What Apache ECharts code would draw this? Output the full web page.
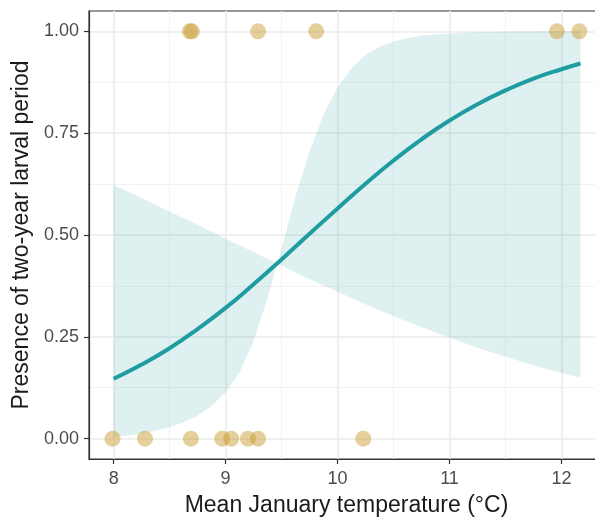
<!DOCTYPE html>
<html>
<head>
<meta charset="utf-8">
<script src="https://cdn.jsdelivr.net/npm/echarts@6/dist/echarts.min.js"></script>
<style>
  html, body { margin: 0; padding: 0; background: #fff; }
  #chart { width: 595px; height: 520px; }
</style>
</head>
<body>
<div id="chart"></div>
<script>
// observed sites: temperature and presence (0/1)
var siteTemp = [7.99, 8.28, 8.69, 8.97, 9.05, 9.20, 9.29, 10.23,
                8.68, 8.70, 9.29, 9.81, 11.96, 12.16];
var sitePresence = [0, 0, 0, 0, 0, 0, 0, 0,
                    1, 1, 1, 1, 1, 1];

// fitted logistic curve
var fitTemp = [8, 8.25, 8.5, 8.75, 9, 9.25, 9.5, 9.75, 10, 10.25, 10.5, 10.75,
               11, 11.25, 11.5, 11.75, 12, 12.17];
var fitProb = [0.147, 0.182, 0.222, 0.269, 0.321, 0.379, 0.440, 0.503, 0.565, 0.626, 0.683, 0.735,
               0.781, 0.821, 0.855, 0.884, 0.907, 0.921];

// confidence ribbon: the two bounding edges (they cross near 9.5)
var bandTemp = [8, 8.25, 8.5, 8.625, 8.75, 8.875, 9, 9.125, 9.25, 9.375, 9.5, 9.625, 9.75, 9.875,
                10, 10.125, 10.25, 10.375, 10.5, 10.625, 10.75, 11, 11.25, 11.5, 11.75, 12, 12.17];
var bandEdgeA = [0.623, 0.591, 0.558, 0.541, 0.525, 0.508, 0.491, 0.475, 0.458, 0.441, 0.425, 0.408, 0.392, 0.376,
                 0.361, 0.345, 0.330, 0.315, 0.301, 0.287, 0.274, 0.248, 0.223, 0.201, 0.180, 0.161, 0.150];
var bandEdgeB = [0.003, 0.012, 0.028, 0.040, 0.056, 0.080, 0.113, 0.163, 0.240, 0.345, 0.468, 0.595, 0.705, 0.795,
                 0.862, 0.910, 0.942, 0.962, 0.975, 0.984, 0.990, 0.995, 0.998, 0.999, 1.0, 1.0, 1.0];

var xTicks = [8, 9, 10, 11, 12];
var xMinor = [8.5, 9.5, 10.5, 11.5];
var yTicks = [0, 0.25, 0.5, 0.75, 1];
var yMinor = [0.125, 0.375, 0.625, 0.875];

var chart = echarts.init(document.getElementById('chart'));

var pts = siteTemp.map(function (t, i) { return [t, sitePresence[i]]; });
var fit = fitTemp.map(function (t, i) { return [t, fitProb[i]]; });

var font = 'Liberation Sans, Arial, Helvetica, sans-serif';
var xMin = 7.78, xMax = 12.38, yMin = -0.05, yMax = 1.05;

function majorAxis(ticks, extra) {
    var a = {
        type: 'value',
        min: 0, max: 0,
        axisLine: { show: true, onZero: false, lineStyle: { color: '#333', width: 1.2 } },
        axisTick: { show: true, length: 5, customValues: ticks, lineStyle: { color: '#333', width: 1.2 } },
        axisLabel: { customValues: ticks, color: '#4d4d4d', fontSize: 18, fontFamily: font, margin: 10 },
        splitLine: { show: true, lineStyle: { color: '#ebebeb', width: 1.6 } }
    };
    for (var k in extra) a[k] = extra[k];
    return a;
}
function minorAxis(ticks, extra) {
    var a = {
        type: 'value',
        min: 0, max: 0,
        axisLine: { show: false },
        axisTick: { show: false, customValues: ticks },
        axisLabel: { show: false, customValues: ticks },
        splitLine: { show: true, lineStyle: { color: '#f2f2f2', width: 1 } }
    };
    for (var k in extra) a[k] = extra[k];
    return a;
}

var option = {
    backgroundColor: '#fff',
    animation: false,
    grid: { left: 89, top: 11, width: 515, height: 448, show: true,
            outerBoundsMode: 'none', containLabel: false,
            borderColor: '#333', borderWidth: 1.2, backgroundColor: 'transparent' },
    xAxis: [
        majorAxis(xTicks, { min: xMin, max: xMax,
            axisLabel: { customValues: xTicks, color: '#4d4d4d', fontSize: 18, fontFamily: font, margin: 11,
                         formatter: function (v) { return String(Math.round(v)); } },
            name: 'Mean January temperature (°C)', nameLocation: 'middle', nameGap: 35,
            nameTextStyle: { color: '#1a1a1a', fontSize: 23, fontFamily: font } }),
        minorAxis(xMinor, { min: xMin, max: xMax })
    ],
    yAxis: [
        majorAxis(yTicks, { min: yMin, max: yMax,
            axisLabel: { customValues: yTicks, color: '#4d4d4d', fontSize: 18, fontFamily: font, margin: 10,
                         formatter: function (v) { return v.toFixed(2); } },
            name: 'Presence of two-year larval period', nameLocation: 'middle', nameGap: 47,
            nameTextStyle: { color: '#1a1a1a', fontSize: 23, fontFamily: font } }),
        minorAxis(yMinor, { min: yMin, max: yMax })
    ],
    series: [
        {
            type: 'custom',
            name: 'ribbon',
            z: 2,
            data: [[bandTemp[0], bandEdgeA[0]]],
            renderItem: function (params, api) {
                var poly = [];
                for (var i = 0; i < bandTemp.length; i++) {
                    poly.push(api.coord([bandTemp[i], bandEdgeA[i]]));
                }
                for (var j = bandTemp.length - 1; j >= 0; j--) {
                    poly.push(api.coord([bandTemp[j], bandEdgeB[j]]));
                }
                return {
                    type: 'polygon',
                    shape: { points: poly },
                    style: { fill: 'rgba(42,157,160,0.15)', stroke: null }
                };
            }
        },
        {
            type: 'line',
            name: 'fit',
            z: 3,
            data: fit,
            smooth: true,
            showSymbol: false,
            lineStyle: { color: '#1f9ca1', width: 4 }
        },
        {
            type: 'scatter',
            name: 'sites',
            z: 4,
            data: pts,
            symbolSize: 16,
            itemStyle: { color: 'rgba(200,155,45,0.6)' }
        }
    ]
};
chart.setOption(option);
</script>
</body>
</html>
